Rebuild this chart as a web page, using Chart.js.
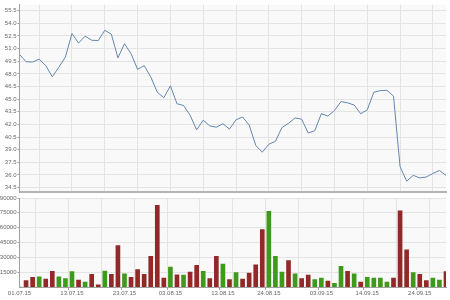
<!DOCTYPE html>
<html>
<head>
<meta charset="utf-8">
<script src="https://cdn.jsdelivr.net/npm/chart.js@4"></script>
<style>
    html, body { margin: 0; padding: 0; background: #ffffff; }
    #wrap { position: relative; width: 450px; height: 300px; overflow: hidden; }
    #price-box { position: absolute; left: 0; top: 0; width: 450px; height: 197px; }
    #volume-box { position: absolute; left: 0; top: 190px; width: 450px; height: 110px; }
</style>
</head>
<body>
<div id="wrap">
    <div id="price-box"><canvas id="price-chart"></canvas></div>
    <div id="volume-box"><canvas id="volume-chart"></canvas></div>
</div>
<script>
// Trading days, 01.07.15 - 30.09.15
const dates = [
    '01.07.15', '02.07.15', '03.07.15', '06.07.15', '07.07.15', '08.07.15', '09.07.15', '10.07.15',
    '13.07.15', '14.07.15', '15.07.15', '16.07.15', '17.07.15', '20.07.15', '21.07.15', '22.07.15',
    '23.07.15', '24.07.15', '27.07.15', '28.07.15', '29.07.15', '30.07.15', '31.07.15',
    '03.08.15', '04.08.15', '05.08.15', '06.08.15', '07.08.15', '10.08.15', '11.08.15', '12.08.15',
    '13.08.15', '14.08.15', '17.08.15', '18.08.15', '19.08.15', '20.08.15', '21.08.15', '24.08.15',
    '25.08.15', '26.08.15', '27.08.15', '28.08.15', '31.08.15',
    '01.09.15', '02.09.15', '03.09.15', '04.09.15', '07.09.15', '08.09.15', '09.09.15', '10.09.15',
    '11.09.15', '14.09.15', '15.09.15', '16.09.15', '17.09.15', '18.09.15', '21.09.15', '22.09.15',
    '23.09.15', '24.09.15', '25.09.15', '28.09.15', '29.09.15', '30.09.15'
];

// Closing price
const prices = [
    50.30, 49.44, 49.40, 49.74, 48.98, 47.65, 48.79, 50.01, 52.79, 51.65,
    52.48, 51.99, 51.95, 53.17, 52.71, 49.90, 51.57, 50.39, 48.53, 48.98,
    47.65, 45.82, 45.17, 46.58, 44.45, 44.25, 43.08, 41.36, 42.50, 41.82,
    41.67, 42.08, 41.44, 42.55, 42.88, 41.93, 39.53, 38.70, 39.65, 39.99,
    41.62, 42.13, 42.77, 42.62, 40.98, 41.25, 43.27, 42.99, 43.65, 44.71,
    44.56, 44.30, 43.27, 43.73, 45.82, 46.01, 46.05, 45.36, 36.98, 35.27,
    35.95, 35.65, 35.76, 36.18, 36.53, 35.95
];

// Volume
const volumes = [
    0, 6400, 9700, 10400, 8100, 15800, 10400, 8400, 15500, 7100,
    5100, 12700, 2300, 16200, 12700, 41800, 13400, 9700, 17500, 12700,
    31000, 82500, 9100, 20200, 12400, 12100, 15200, 21900, 15800, 8400,
    31000, 23300, 7400, 14600, 7900, 14000, 22500, 58000, 76500, 31000,
    15200, 26700, 13400, 8600, 12100, 7400, 9100, 6000, 3700, 20800,
    15800, 13400, 5100, 9700, 9100, 9100, 5100, 9100, 77100, 37700,
    14500, 12700, 6400, 9100, 7100, 15500
];

// Day direction (u = up day, d = down day)
const directions = [
    'u', 'd', 'd', 'u', 'd', 'd', 'u', 'u', 'u', 'd',
    'u', 'd', 'd', 'u', 'd', 'd', 'u', 'd', 'd', 'd',
    'd', 'd', 'd', 'u', 'd', 'u', 'd', 'd', 'u', 'd',
    'd', 'u', 'd', 'u', 'd', 'd', 'd', 'd', 'u', 'u',
    'u', 'd', 'u', 'd', 'd', 'u', 'u', 'd', 'u', 'u',
    'd', 'u', 'd', 'u', 'u', 'u', 'u', 'd', 'd', 'd',
    'u', 'd', 'd', 'u', 'u', 'd'
];

// Axis ticks
const priceTicks = [34.5, 36.0, 37.5, 39.0, 40.5, 42.0, 43.5, 45.0, 46.5, 48.0, 49.5, 51.0, 52.5, 54.0, 55.5];
const volumeTicks = [15000, 30000, 45000, 60000, 75000, 90000];
const dateLabels = ['01.07.15', '13.07.15', '23.07.15', '03.08.15', '13.08.15', '24.08.15', '03.09.15', '14.09.15', '24.09.15'];

const GRID = '#e4e4e4';
const AXIS = '#a0a0a0';
const TEXT = '#666666';
const UP = '#3f9a1c';
const DOWN = '#922828';

Chart.defaults.font.family = '"Liberation Sans", Arial, sans-serif';
Chart.defaults.font.size = 6;
Chart.defaults.color = TEXT;
Chart.defaults.animation = false;

// Week start gets a vertical grid line
function isMonday(label) {
    const [d, m, y] = label.split('.').map(Number);
    return new Date(2000 + y, m - 1, d).getDay() === 1;
}

// Fill plot area
const plotBackground = {
    id: 'plotBackground',
    beforeDraw(chart) {
        const a = chart.chartArea;
        const ctx = chart.ctx;
        ctx.save();
        ctx.fillStyle = '#f9f9f9';
        ctx.fillRect(a.left, a.top, a.right - a.left, a.bottom - a.top);
        ctx.restore();
    }
};

function fixedWidth(scale) {
    scale.width = 19.5;
}

// Price line chart
new Chart(document.getElementById('price-chart'), {
    type: 'line',
    data: {
        labels: dates,
        datasets: [{
            data: prices,
            borderColor: '#6487b0',
            borderWidth: 1,
            pointRadius: 0,
            tension: 0,
            fill: false
        }]
    },
    options: {
        responsive: true,
        maintainAspectRatio: false,
        layout: { padding: { top: 0, right: 4, bottom: 2, left: 0 } },
        plugins: { legend: { display: false }, tooltip: { enabled: false } },
        scales: {
            x: {
                offset: false,
                grid: {
                    color: ctx => isMonday(dates[ctx.index] || '') ? GRID : 'rgba(0,0,0,0)',
                    drawTicks: false
                },
                border: { color: '#b4b4b4', width: 2 },
                ticks: { display: false, autoSkip: false },
                afterFit: scale => { scale.height = 0; }
            },
            y: {
                min: 33.93,
                max: 56.22,
                afterBuildTicks: scale => { scale.ticks = priceTicks.map(v => ({ value: v })); },
                afterFit: fixedWidth,
                grid: { color: GRID, tickLength: 2, tickColor: AXIS },
                border: { color: AXIS, width: 1 },
                ticks: { padding: 1, callback: v => v.toFixed(1) }
            }
        }
    },
    plugins: [plotBackground]
});

// Volume bar chart
new Chart(document.getElementById('volume-chart'), {
    type: 'bar',
    data: {
        labels: dates,
        datasets: [{
            data: volumes,
            backgroundColor: directions.map(d => d === 'u' ? UP : DOWN),
            barThickness: 4,
            borderWidth: 0
        }]
    },
    options: {
        responsive: true,
        maintainAspectRatio: false,
        layout: { padding: { top: 8, right: 4, bottom: 0, left: 0 } },
        plugins: { legend: { display: false }, tooltip: { enabled: false } },
        scales: {
            x: {
                offset: false,
                grid: {
                    color: ctx => isMonday(dates[ctx.index] || '') ? GRID : 'rgba(0,0,0,0)',
                    tickLength: 3,
                    tickColor: ctx => dateLabels.includes(dates[ctx.index]) ? AXIS : 'rgba(0,0,0,0)'
                },
                border: { color: AXIS, width: 1 },
                ticks: {
                    autoSkip: false,
                    maxRotation: 0,
                    padding: 0,
                    callback: (v, i) => dateLabels.includes(dates[i]) ? dates[i] : ''
                },
                afterFit: scale => { scale.height = 13; }
            },
            y: {
                min: 0,
                max: 90000,
                afterBuildTicks: scale => { scale.ticks = volumeTicks.map(v => ({ value: v })); },
                afterFit: fixedWidth,
                grid: { color: GRID, tickLength: 2, tickColor: AXIS },
                border: { color: AXIS, width: 1 },
                ticks: { padding: 1, callback: v => String(v) }
            }
        }
    },
    plugins: [plotBackground]
});
</script>
</body>
</html>
